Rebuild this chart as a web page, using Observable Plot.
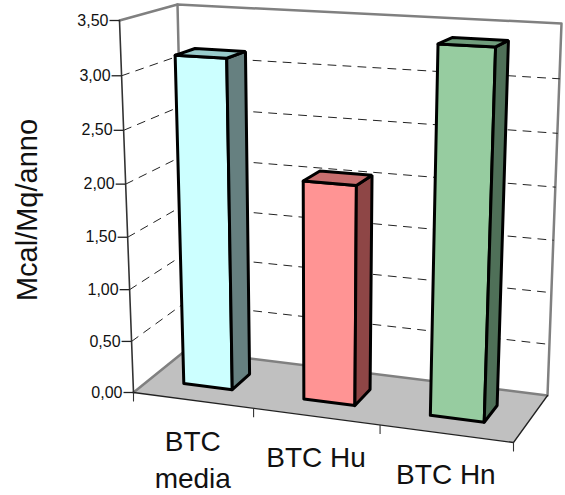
<!DOCTYPE html>
<html><head><meta charset="utf-8">
<style>html,body{margin:0;padding:0;background:#fff}svg{display:block}</style>
<script src="https://cdn.jsdelivr.net/npm/d3@7"></script>
<script src="https://cdn.jsdelivr.net/npm/@observablehq/plot@0.6"></script>
</head><body><div id="chart"></div>
<script>
const categories = ["BTC\nmedia", "BTC Hu", "BTC Hn"];
const values = [3.15, 2.07, 3.38];
const tickValues = [0, 0.5, 1, 1.5, 2, 2.5, 3, 3.5];
const tickLabels = ["0,00", "0,50", "1,00", "1,50", "2,00", "2,50", "3,00", "3,50"];
const yMax = 3.5;
const axisTitle = "Mcal/Mq/anno";

// camera: where the eight corners of the plot box land on the page, plus the foreshortening
const corner = {
  fl0: [133, 392], fr0: [513, 442], bl0: [185, 350], br0: [547, 395],
  fl1: [119, 20], fr1: [528, 40], bl1: [177, 4], br1: [561, 23]
};
const warp = (t, k) => k * t / (1 - (1 - k) * t);
const lerp = (a, b, t) => [a[0] + (b[0] - a[0]) * t, a[1] + (b[1] - a[1]) * t];
// u: position along categories (0..categories.length), w: depth 0..1, v: value
function proj(u, w, v) {
  const U = warp(u / categories.length, 0.924), V = warp(v / yMax, 0.955);
  const low = lerp(lerp(corner.fl0, corner.fr0, U), lerp(corner.bl0, corner.br0, U), w);
  const high = lerp(lerp(corner.fl1, corner.fr1, U), lerp(corner.bl1, corner.br1, U), w);
  return lerp(low, high, V);
}
const X = p => p[0], Y = p => p[1];
const poly = (pts, o) => Plot.line(pts, {x: X, y: Y, curve: "linear", ...o});
const closed = pts => [...pts, pts[0]];

const n = categories.length;
const gapL = 0.29, gapR = 0.3, front = 0.32, back = 0.68; // bar layout in category units / depth
const faces = [
  {front: "#ccffff", side: "#668080", top: "#99cccc"},
  {front: "url(#redF)", side: "url(#redS)", top: "url(#redT)"},
  {front: "url(#greenF)", side: "url(#greenS)", top: "url(#greenT)"}
];
const barStyle = {stroke: "black", strokeWidth: 3, strokeLinejoin: "miter"};
const barMarks = categories.flatMap((c, i) => {
  const a = i + gapL, b = i + 1 - gapR, h = values[i];
  const style = faces[i];
  return [
    poly(closed([proj(a, front, 0), proj(b, front, 0), proj(b, front, h), proj(a, front, h)]), {fill: style.front, ...barStyle}),
    poly(closed([proj(b, front, 0), proj(b, back, 0), proj(b, back, h), proj(b, front, h)]), {fill: style.side, ...barStyle}),
    poly(closed([proj(a, front, h), proj(b, front, h), proj(b, back, h), proj(a, back, h)]), {fill: style.top, ...barStyle})
  ];
});

function checker(id, c1, c2) {
  return `<pattern id="${id}" width="2" height="2" patternUnits="userSpaceOnUse">
    <rect width="2" height="2" fill="${c1}"/><rect width="1" height="1" fill="${c2}"/><rect x="1" y="1" width="1" height="1" fill="${c2}"/></pattern>`;
}
const defs = () => {
  const g = document.createElementNS("http://www.w3.org/2000/svg", "defs");
  g.innerHTML = checker("redF", "#ffffff", "#ff2a2a") + checker("redS", "#c07878", "#5c1414") +
    checker("redT", "#ddaaaa", "#b33333") + checker("greenF", "#ffffff", "#2e9940") +
    checker("greenS", "#80a088", "#1e4028") + checker("greenT", "#a0c0a8", "#3f7a50");
  return g;
};

const gridValues = tickValues.slice(1, -1);
const ticks = tickValues.map((v, i) => ({p: proj(0, 0, v), label: tickLabels[i]}));
const catTicks = d3.range(n + 1).map(i => proj(i, 0, 0));

const chart = Plot.plot({
  width: 565, height: 495, margin: 0,
  x: {domain: [0, 565], range: [0, 565], axis: null},
  y: {domain: [0, 495], range: [0, 495], axis: null},
  style: {background: "white", fontFamily: "'Liberation Sans', Arial, sans-serif"},
  marks: [
    defs,
    poly(closed([proj(0, 0, 0), proj(n, 0, 0), proj(n, 1, 0), proj(0, 1, 0)]), {fill: "#c0c0c0", stroke: "none"}),
    // walls
    poly([proj(0, 0, 0), proj(0, 1, 0), proj(n, 1, 0), proj(n, 1, yMax), proj(0, 1, yMax), proj(0, 0, yMax)], {stroke: "#808080", strokeWidth: 2.5}),
    poly([proj(0, 1, 0), proj(0, 1, yMax)], {stroke: "#808080", strokeWidth: 2.5}),
    // grid
    ...gridValues.map(v => poly([proj(0, 0, v), proj(0, 1, v), proj(n, 1, v)], {stroke: "#222", strokeWidth: 1, strokeDasharray: "8,7"})),
    // axes
    poly([proj(0, 0, 0), proj(0, 0, yMax)], {stroke: "#333", strokeWidth: 1.6}),
    poly([proj(0, 0, 0), proj(n, 0, 0), proj(n, 1, 0)], {stroke: "#222", strokeWidth: 1.3}),
    Plot.link(ticks, {x1: d => d.p[0], y1: d => d.p[1], x2: d => d.p[0] - 10, y2: d => d.p[1], stroke: "#222", strokeWidth: 1.3}),
    Plot.link(catTicks, {x1: X, y1: Y, x2: X, y2: p => p[1] + 9, stroke: "#333", strokeWidth: 1.1}),
    Plot.text(ticks, {x: d => d.p[0], y: d => d.p[1], text: "label", dx: -11, textAnchor: "end", fontSize: 16, fill: "#111"}),
    ...barMarks,
    Plot.text(categories, {
      x: (c, i) => proj(i + 0.5, 0, 0)[0], y: (c, i) => proj(i + 0.5, 0, 0)[1],
      text: c => c, lineAnchor: "top", lineHeight: 1.33, dy: 24, fontSize: 28, fill: "#111"
    }),
    Plot.text([axisTitle], {frameAnchor: "left", textAnchor: "middle", dx: 27, dy: -38, rotate: -90, text: d => d, fontSize: 29, fill: "#111"})
  ]
});
document.getElementById("chart").append(chart);
</script></body></html>
